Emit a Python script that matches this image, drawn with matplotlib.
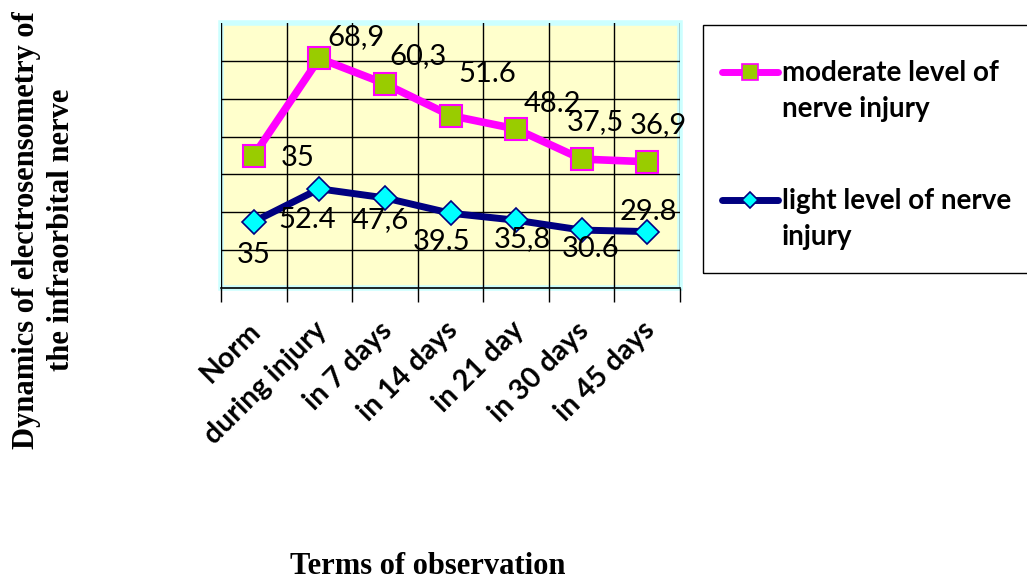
import numpy as np
import matplotlib
matplotlib.use("Agg")
import matplotlib.pyplot as plt
import matplotlib.transforms as mtransforms
from matplotlib.lines import Line2D
from matplotlib.patches import Rectangle

# data (stacked line chart)
categories = ["Norm", "during injury", "in 7 days", "in 14 days",
              "in 21 day", "in 30 days", "in 45 days"]
light = [35, 52.4, 47.6, 39.5, 35.8, 30.6, 29.8]
moderate = [35, 68.9, 60.3, 51.6, 48.2, 37.5, 36.9]
light_labels = ["35", "52.4", "47,6", "39.5", "35,8", "30.6", "29.8"]
moderate_labels = ["35", "68,9", "60,3", "51.6", "48.2", "37,5", "36,9"]

# label offsets in pixels, placed like the original
light_offsets = [(0, -33), (-12, -31), (-5, -22), (-9, -29), (6, -19), (9, -19), (1, 20)]
moderate_offsets = [(44, -2), (37, 21), (33, 28), (37, 42), (36, 25), (14, 37), (11, 37)]

LABEL_FONT = "Lato"
MAGENTA = "#FF00FF"
NAVY = "#000080"

fig = plt.figure(figsize=(10.27, 5.81), dpi=100)
ax = fig.add_axes([221 / 1027, 1 - 288 / 581, 459 / 1027, 265 / 581])
ax.set_facecolor("#FFFFCC")

x = np.arange(len(categories))
stacked = np.add(light, moderate)

ax.plot(x, light, color=NAVY, lw=5, marker="D", ms=12,
        mfc="#00FFFF", mec=NAVY, mew=1.2, zorder=4)
ax.plot(x, stacked, color=MAGENTA, lw=5.5, marker="s", ms=16,
        mfc="#99CC00", mec=MAGENTA, mew=1.5, zorder=4)

for xi, yi, lab, off in zip(x, light, light_labels, light_offsets):
    ax.annotate(lab, (xi, yi), xytext=off, textcoords="offset pixels",
                ha="center", va="center", fontsize=21, family=LABEL_FONT, zorder=5)
for xi, yi, lab, off in zip(x, stacked, moderate_labels, moderate_offsets):
    ax.annotate(lab, (xi, yi), xytext=off, textcoords="offset pixels",
                ha="center", va="center", fontsize=21, family=LABEL_FONT, zorder=5)

ax.set_xlim(-0.5, len(categories) - 0.5)
ax.set_ylim(0, 140)
ax.set_yticks(np.arange(20, 140, 20))
ax.tick_params(axis="y", left=False, labelleft=False)
ax.grid(axis="y", color="black", lw=1)

# category boundaries: vertical grid + outside tick marks
ax.set_xticks(np.arange(-0.5, len(categories), 1), minor=True)
ax.grid(axis="x", which="minor", color="black", lw=1)
ax.tick_params(axis="x", which="minor", length=10, width=1, direction="out")
ax.set_xticks(x)
ax.set_xticklabels(categories, rotation=45, ha="right", va="top",
                   rotation_mode="anchor", fontsize=20.5, fontweight="bold",
                   family=LABEL_FONT)
ax.tick_params(axis="x", which="major", length=0, pad=21)
shift = mtransforms.ScaledTranslation(-6 / 100, 0, fig.dpi_scale_trans)
for lbl in ax.get_xticklabels():
    lbl.set_transform(lbl.get_transform() + shift)
ax.set_axisbelow(True)

for s in ["left", "right", "top"]:
    ax.spines[s].set_visible(False)
ax.spines["bottom"].set_color("black")
ax.spines["bottom"].set_linewidth(1.2)

# light cyan plot-area border
ax.add_patch(Rectangle((0, 0), 1, 1, transform=ax.transAxes, fill=False,
                       edgecolor="#CCFFFF", lw=4, clip_on=False, zorder=0))

# legend box
fig.add_artist(Rectangle((703 / 1027, 1 - 273 / 581), 0.4, 248 / 581,
                         transform=fig.transFigure, fill=False,
                         edgecolor="black", lw=1))
legend_items = [
    ("moderate level of\nnerve injury", MAGENTA, "s", "#99CC00", 11, 72),
    ("light level of nerve\ninjury", NAVY, "D", "#00FFFF", 8, 200),
]
for text, col, mk, fc, ms, ypx in legend_items:
    yf = 1 - ypx / 581
    fig.add_artist(Line2D([722 / 1027, 778 / 1027], [yf, yf], color=col, lw=5,
                          solid_capstyle="round", transform=fig.transFigure))
    fig.add_artist(Line2D([750 / 1027], [yf], marker=mk, ms=ms, mfc=fc, mec=col,
                          mew=1.2, transform=fig.transFigure))
    fig.text(782 / 1027, yf + 12 / 581, text, ha="left", va="top", fontsize=20,
             fontweight="bold", family=LABEL_FONT, linespacing=1.5)

fig.text(44 / 1027, 1 - 230 / 581,
         "Dynamics of electrosensometry of\nthe infraorbital nerve",
         rotation=90, ha="center", va="center", multialignment="center",
         fontsize=22, fontweight="bold", family="Liberation Serif", linespacing=1.25)
fig.text(428 / 1027, 1 - 566 / 581, "Terms of observation", ha="center",
         va="center", fontsize=22, fontweight="bold", family="Liberation Serif")

fig.savefig("out.png", dpi=100)
